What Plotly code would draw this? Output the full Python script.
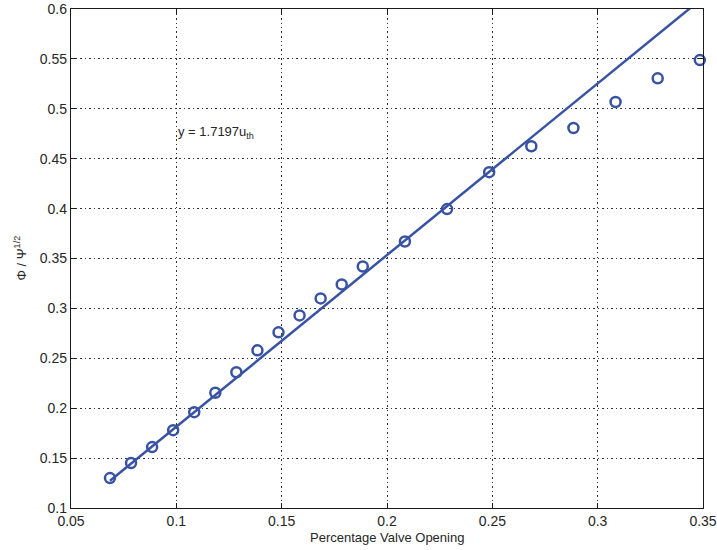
import plotly.graph_objects as go

# Data
valve_opening = [0.0685, 0.0785, 0.0885, 0.0985, 0.1085, 0.1185, 0.1285, 0.1385,
                 0.1485, 0.1585, 0.1685, 0.1785, 0.1885, 0.2085, 0.2285, 0.2485,
                 0.2685, 0.2885, 0.3085, 0.3285, 0.3485]
phi_ratio = [0.130, 0.145, 0.161, 0.178, 0.196, 0.2155, 0.236, 0.258,
             0.276, 0.293, 0.310, 0.324, 0.342, 0.367, 0.3995, 0.4365,
             0.4625, 0.4808, 0.5068, 0.5305, 0.5488]

fit_slope = 1.7197
fit_intercept = 0.0095
fit_x = [0.0685, 0.36]
fit_y = [fit_slope * x + fit_intercept for x in fit_x]

x_ticks = [0.05, 0.1, 0.15, 0.2, 0.25, 0.3, 0.35]
x_tick_labels = ["0.05", "0.1", "0.15", "0.2", "0.25", "0.3", "0.35"]
y_ticks = [0.1, 0.15, 0.2, 0.25, 0.3, 0.35, 0.4, 0.45, 0.5, 0.55, 0.6]
y_tick_labels = ["0.1", "0.15", "0.2", "0.25", "0.3", "0.35", "0.4", "0.45", "0.5", "0.55", "0.6"]

blue = "#3953a4"
font_family = "Liberation Sans, Arial, Helvetica, sans-serif"
text_color = "#262626"

fig = go.Figure()
fig.add_trace(go.Scatter(x=fit_x, y=fit_y, mode="lines",
                         line=dict(color=blue, width=2.5), showlegend=False))
fig.add_trace(go.Scatter(x=valve_opening, y=phi_ratio, mode="markers",
                         marker=dict(symbol="circle-open", size=10, color=blue,
                                     line=dict(width=2.5, color=blue)),
                         showlegend=False, cliponaxis=False))

axis_common = dict(
    showline=True, linecolor="#1a1a1a", linewidth=1.3, mirror="ticks",
    ticks="inside", ticklen=5, tickcolor="#1a1a1a", tickwidth=1,
    showgrid=True, gridcolor="#333333", gridwidth=1, griddash="1.5px,3px",
    zeroline=False, automargin=False,
    tickfont=dict(family=font_family, size=14, color=text_color),
)

fig.update_xaxes(range=[0.05, 0.35], tickvals=x_ticks, ticktext=x_tick_labels, **axis_common)
fig.update_yaxes(range=[0.1, 0.6], tickvals=y_ticks, ticktext=y_tick_labels, **axis_common)

fig.add_annotation(x=0.1, y=0.476, xref="x", yref="y", text="y = 1.7197u<sub>th</sub>",
                   showarrow=False, xanchor="left", yanchor="middle",
                   font=dict(family=font_family, size=13, color=text_color))
fig.add_annotation(x=0.5, y=0, xref="paper", yref="paper", yshift=-29,
                   text="Percentage Valve Opening", showarrow=False,
                   xanchor="center", yanchor="middle",
                   font=dict(family=font_family, size=13, color=text_color))
fig.add_annotation(x=0, y=0.5, xref="paper", yref="paper", xshift=-51,
                   text="Φ / Ψ<sup>1/2</sup>", showarrow=False, textangle=-90,
                   xanchor="center", yanchor="middle",
                   font=dict(family=font_family, size=13, color=text_color))

fig.update_layout(
    width=717, height=550,
    margin=dict(l=71, r=14, t=9, b=42),
    paper_bgcolor="white", plot_bgcolor="white",
    font=dict(family=font_family, color=text_color),
)

fig.write_html("out.html")
